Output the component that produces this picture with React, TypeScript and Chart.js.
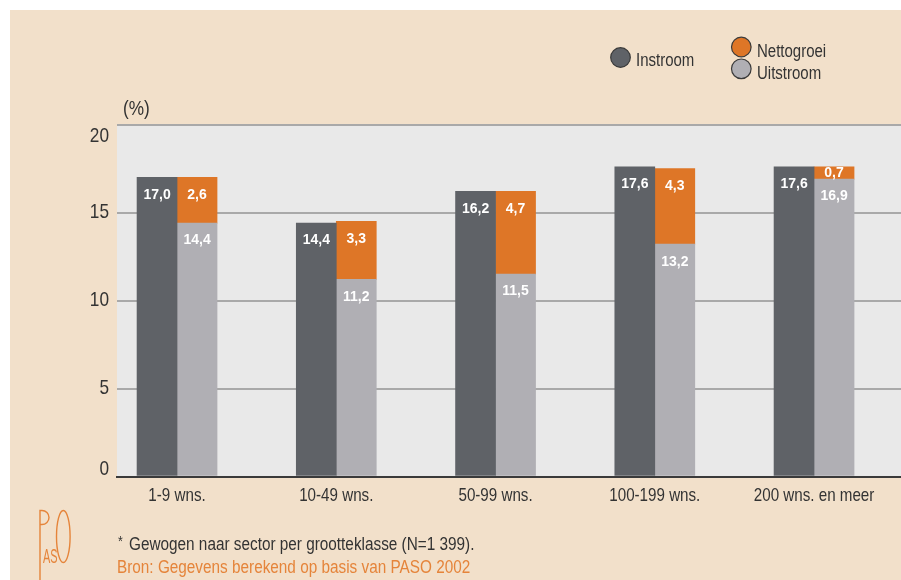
import React, { useEffect, useRef } from 'react';
import { Chart, registerables } from 'chart.js';

Chart.register(...registerables);

const categories = ['1-9 wns.', '10-49 wns.', '50-99 wns.', '100-199 wns.', '200 wns. en meer'];
const instroom = [17.0, 14.4, 16.2, 17.6, 17.6];
const uitstroom = [14.4, 11.2, 11.5, 13.2, 16.9];
const nettogroei = [2.6, 3.3, 4.7, 4.3, 0.7];
const yTickValues = [0, 5, 10, 15, 20];

const W = 901;
const H = 580;
const SANS = "'Liberation Sans', Arial, sans-serif";
const NARROW_X = 0.82; // horizontal condensing to mimic Arial Narrow
const DARK = '#5f6267';
const GRAY = '#b0afb4';
const ORANGE = '#de7627';
const BEIGE = '#f2e0ca';
const PLOT_BG = '#e9e9e9';
const TEXT = '#333333';
const SRC_ORANGE = '#e5843a';

const X_MIN = -0.377;
const X_MAX = 4.546;

const fmt = (v: number) => v.toFixed(1).replace('.', ',');

function narrowText(ctx: CanvasRenderingContext2D, text: string, x: number, y: number, size: number) {
  ctx.save();
  ctx.font = `${size}px ${SANS}`;
  ctx.translate(x, y);
  ctx.scale(NARROW_X, 1);
  ctx.fillText(text, 0, 0);
  ctx.restore();
}

const bgPlugin = {
  id: 'bgPlugin',
  beforeDraw(chart: any) {
    const { ctx, chartArea } = chart;
    ctx.save();
    ctx.fillStyle = '#ffffff';
    ctx.fillRect(0, 0, W, H);
    ctx.fillStyle = BEIGE;
    ctx.fillRect(10, 10, W - 10, H - 10);
    ctx.fillStyle = PLOT_BG;
    ctx.fillRect(chartArea.left, chartArea.top, chartArea.right - chartArea.left, chartArea.bottom - chartArea.top);
    ctx.restore();
  },
};

const labelPlugin = {
  id: 'labelPlugin',
  afterDatasetsDraw(chart: any) {
    const ctx = chart.ctx;
    ctx.save();
    ctx.fillStyle = '#ffffff';
    ctx.font = `bold 14px ${SANS}`;
    ctx.textAlign = 'center';
    ctx.textBaseline = 'middle';
    chart.data.datasets.forEach((ds: any, di: number) => {
      const meta = chart.getDatasetMeta(di);
      meta.data.forEach((el: any, i: number) => {
        const v = ds.data[i].y;
        const { x, y, base } = el.getProps(['x', 'y', 'base'], true);
        const h = base - y;
        const ty = h < 34 ? (y + base) / 2 : y + 17.5;
        ctx.fillText(fmt(v), x, ty);
      });
    });
    ctx.restore();
  },
};

const axisTextPlugin = {
  id: 'axisTextPlugin',
  afterDraw(chart: any) {
    const { ctx, chartArea } = chart;
    const xs = chart.scales.x;
    const ys = chart.scales.y;
    ctx.save();
    ctx.fillStyle = TEXT;
    ctx.textBaseline = 'middle';
    // y tick labels
    ctx.textAlign = 'right';
    ys.ticks.forEach((t: any) => {
      let py = ys.getPixelForValue(t.value);
      if (t.value === yTickValues[yTickValues.length - 1]) py += 12;
      if (t.value === yTickValues[0]) py -= 7;
      narrowText(ctx, String(t.value), chartArea.left - 8, py, 21);
    });
    // x tick labels
    ctx.textAlign = 'center';
    xs.ticks.forEach((t: any) => {
      const px = xs.getPixelForValue(t.value);
      narrowText(ctx, categories[t.value], px, 496, 18.5);
    });
    // unit label
    ctx.textAlign = 'left';
    narrowText(ctx, '(%)', chartArea.left + 6, 109, 21);
    ctx.restore();
  },
};

const extrasPlugin = {
  id: 'extrasPlugin',
  afterDraw(chart: any) {
    const { ctx } = chart;
    const ds = chart.data.datasets;
    ctx.save();
    // legend
    const items = [
      { ds: ds[0], cx: 620.5, cy: 57.5, tx: 636, ty: 66 },
      { ds: ds[2], cx: 741.3, cy: 47, tx: 757, ty: 57 },
      { ds: ds[1], cx: 741.3, cy: 68.8, tx: 757, ty: 78.5 },
    ];
    ctx.textAlign = 'left';
    ctx.textBaseline = 'alphabetic';
    items.forEach((it) => {
      ctx.beginPath();
      ctx.arc(it.cx, it.cy, 9.8, 0, Math.PI * 2);
      ctx.fillStyle = it.ds.backgroundColor;
      ctx.fill();
      ctx.lineWidth = 1.2;
      ctx.strokeStyle = '#3a3a3a';
      ctx.stroke();
      ctx.fillStyle = TEXT;
      narrowText(ctx, it.ds.label, it.tx, it.ty, 18.3);
    });

    // footnotes
    ctx.fillStyle = TEXT;
    narrowText(ctx, '*', 118, 546, 15);
    narrowText(ctx, 'Gewogen naar sector per grootteklasse (N=1 399).', 129, 550, 18.7);
    ctx.fillStyle = SRC_ORANGE;
    narrowText(ctx, 'Bron: Gegevens berekend op basis van PASO 2002', 117, 573, 18.7);

    // logo
    ctx.strokeStyle = SRC_ORANGE;
    ctx.fillStyle = SRC_ORANGE;
    ctx.lineWidth = 1.4;
    ctx.beginPath();
    ctx.moveTo(40, 580);
    ctx.lineTo(40, 510.5);
    ctx.lineTo(42, 510.5);
    ctx.arc(42, 517.5, 7, -Math.PI / 2, Math.PI / 2);
    ctx.lineTo(40, 524.5);
    ctx.stroke();
    ctx.beginPath();
    ctx.ellipse(63.3, 536.5, 6.8, 26, 0, 0, Math.PI * 2);
    ctx.stroke();
    ctx.save();
    ctx.translate(43, 563);
    ctx.scale(0.52, 1);
    ctx.font = `21px ${SANS}`;
    ctx.fillText('AS', 0, 0);
    ctx.restore();
    ctx.restore();
  },
};

export default function App() {
  const ref = useRef<HTMLCanvasElement>(null);
  useEffect(() => {
    const canvas = ref.current!;
    const chart = new Chart(canvas, {
      type: 'bar',
      data: {
        datasets: [
          { label: 'Instroom', data: instroom.map((v, i) => ({ x: i, y: v })), backgroundColor: DARK, stack: 'in' },
          { label: 'Uitstroom', data: uitstroom.map((v, i) => ({ x: i, y: v })), backgroundColor: GRAY, stack: 'uit' },
          { label: 'Nettogroei', data: nettogroei.map((v, i) => ({ x: i, y: v })), backgroundColor: ORANGE, stack: 'uit' },
        ] as any,
      },
      options: {
        responsive: false,
        animation: false,
        devicePixelRatio: 1,
        layout: { padding: { top: 124.5, left: 0, right: 0, bottom: 0 } },
        plugins: {
          legend: { display: false },
          tooltip: { enabled: false },
          title: { display: false },
        },
        datasets: { bar: { barThickness: 40, borderWidth: 0 } } as any,
        scales: {
          x: {
            type: 'linear',
            min: X_MIN,
            max: X_MAX,
            offset: false,
            grid: { display: false, drawTicks: false, offset: false },
            border: { display: true, color: '#3a3a3a', width: 2 },
            ticks: { display: false, autoSkip: false },
            afterBuildTicks: (s: any) => {
              s.ticks = categories.map((_, i) => ({ value: i }));
            },
            afterFit: (s: any) => {
              s.height = H - 476.5;
            },
          } as any,
          y: {
            stacked: true,
            min: 0,
            max: 20,
            grid: {
              drawTicks: false,
              tickLength: 0,
              lineWidth: 2,
              color: (c: any) => (c.tick && c.tick.value === 0 ? 'rgba(0,0,0,0)' : '#a9a9a9'),
            },
            border: { display: false },
            ticks: { display: false },
            afterBuildTicks: (s: any) => {
              s.ticks = yTickValues.map((v) => ({ value: v }));
            },
            afterFit: (s: any) => {
              s.width = 117;
            },
          } as any,
        },
      },
      plugins: [bgPlugin, labelPlugin, axisTextPlugin, extrasPlugin],
    });
    return () => chart.destroy();
  }, []);

  return (
    <div style={{ position: 'absolute', left: 0, top: 0, width: W, height: H, background: '#fff' }}>
      <canvas ref={ref} width={W} height={H} style={{ display: 'block', width: W, height: H }} />
    </div>
  );
}
